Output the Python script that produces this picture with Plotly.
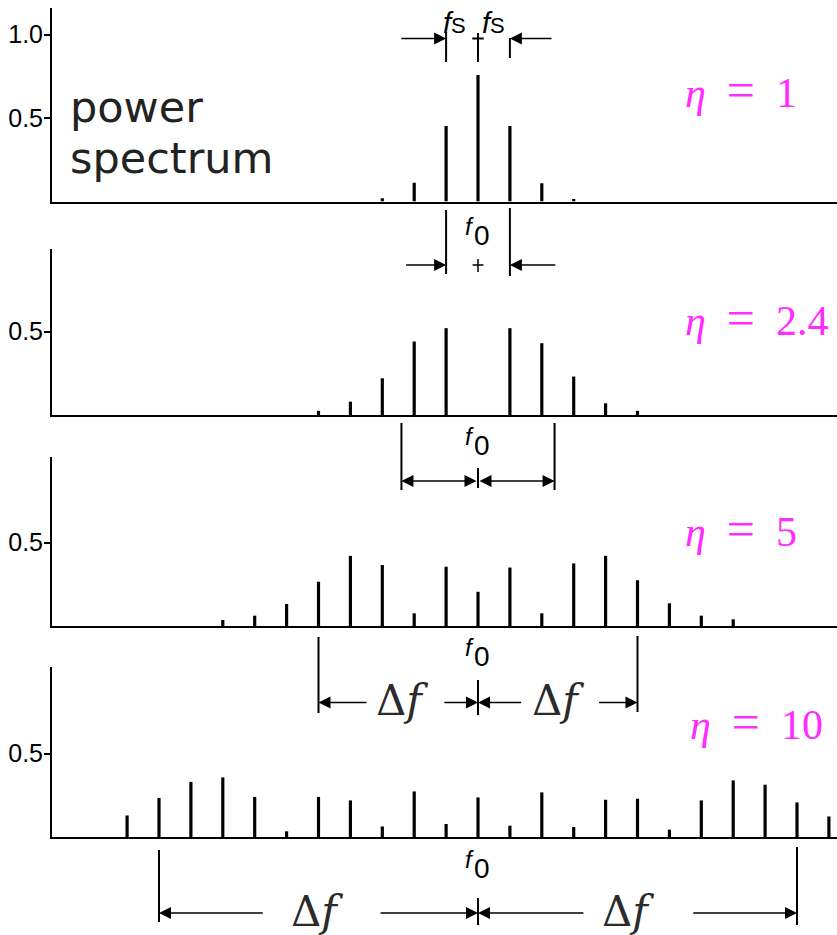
import plotly.graph_objects as go

W, H = 837, 935

# modulation indices shown in the four panels
eta = [1, 2.4, 5, 10]
eta_text = ["1", "2.4", "5", "10"]

# line orders n (carrier at n = 0, spacing f_S) and relative line amplitudes
orders_1 = [-3, -2, -1, 0, 1, 2, 3]
amps_1 = [0.02, 0.113, 0.452, 0.757, 0.452, 0.11, 0.015]

orders_24 = list(range(-5, 6))
amps_24 = [0.025, 0.08, 0.22, 0.44, 0.52, 0.0, 0.52, 0.43, 0.23, 0.07, 0.025]

orders_5 = list(range(-8, 9))
amps_5 = [0.036, 0.062, 0.132, 0.265, 0.42, 0.365, 0.076, 0.355, 0.205,
          0.35, 0.076, 0.375, 0.42, 0.274, 0.136, 0.062, 0.04]

orders_10 = list(range(-11, 12))
amps_10 = [0.129, 0.234, 0.33, 0.357, 0.24, 0.034, 0.24, 0.219, 0.063, 0.273,
           0.078, 0.237, 0.068, 0.267, 0.06, 0.223, 0.229, 0.044, 0.219, 0.339,
           0.313, 0.207, 0.123]

panels = [(orders_1, amps_1), (orders_24, amps_24), (orders_5, amps_5), (orders_10, amps_10)]

# y tick marks per panel
tick_vals = [[0.5, 1.0], [0.5], [0.5], [0.5]]
tick_text = [["0.5", "1.0"], ["0.5"], ["0.5"], ["0.5"]]

# ---- page geometry (pixels) ----
X_AXIS_PX = 52          # left edge of plotting area
X0_PX = 478             # carrier position
PX_PER_FS = 31.9        # one f_S in pixels
PX_PER_UNIT = 167       # amplitude 1.0 in pixels
panel_px = [(8, 201.5), (249, 415), (457, 626), (667, 837)]  # (top, baseline)

x_range = [(X_AXIS_PX - X0_PX) / PX_PER_FS, (W - X0_PX) / PX_PER_FS]


def py(p):
    """pixel row -> paper y"""
    return 1 - p / H


fig = go.Figure()
layout = dict(
    width=W, height=H, margin=dict(l=0, r=0, t=0, b=0),
    paper_bgcolor="white", plot_bgcolor="white",
    showlegend=False, barmode="overlay",
)

for i, ((orders, amps), (top, base)) in enumerate(zip(panels, panel_px)):
    sfx = "" if i == 0 else str(i + 1)
    fig.add_trace(go.Bar(
        x=orders, y=amps, width=0.1, marker=dict(color="black", line=dict(width=0)),
        xaxis="x" + sfx, yaxis="y" + sfx, hoverinfo="skip",
    ))
    layout["xaxis" + sfx] = dict(
        domain=[X_AXIS_PX / W, 1], range=x_range, anchor="y" + sfx,
        showline=True, linecolor="black", linewidth=2.2,
        showticklabels=False, ticks="", showgrid=False, zeroline=False,
        **({} if i == 0 else {"matches": "x"}),
    )
    layout["yaxis" + sfx] = dict(
        domain=[py(base), py(top)], range=[0, (base - top) / PX_PER_UNIT],
        anchor="x" + sfx, showline=True, linecolor="black", linewidth=2,
        ticks="outside", ticklen=6, tickwidth=1.5, tickcolor="black",
        tickvals=tick_vals[i], ticktext=tick_text[i], ticklabelstandoff=-4,
        tickfont=dict(family="Liberation Sans, Arial, sans-serif", size=25, color="black"),
        showgrid=False, zeroline=False,
    )

fig.update_layout(**layout)

shapes = []
annots = []


def vline(x, y0, y1, w=2):
    shapes.append(dict(type="line", xref="x", yref="paper", x0=x, x1=x,
                       y0=py(y0), y1=py(y1), line=dict(color="black", width=w)))


def hline(x0, x1, y, w=2):
    shapes.append(dict(type="line", xref="x", yref="paper", x0=x0, x1=x1,
                       y0=py(y), y1=py(y), line=dict(color="black", width=w)))


def arrow(tail, head, y, both=False):
    annots.append(dict(
        x=head, y=py(y), xref="x", yref="paper", ax=tail, ay=0, axref="x", ayref="pixel",
        text="", showarrow=True, arrowhead=2, arrowsize=1.5, arrowwidth=1.6,
        arrowcolor="black", standoff=0, startstandoff=0,
        arrowside="end+start" if both else "end", startarrowhead=2, startarrowsize=1.5,
    ))


def text(x, y, s, size, family, color="black", xref="x", xanchor="center"):
    annots.append(dict(
        x=x, y=py(y), xref=xref, yref="paper", text=s, showarrow=False,
        xanchor=xanchor, yanchor="middle",
        font=dict(size=size, family=family, color=color),
    ))


SANS = "Liberation Sans, Arial, sans-serif"
SERIF_MATH = "DejaVu Serif, Liberation Serif, serif"


def f0_label(bottom):
    text(-0.27, bottom - 19, "<i>f</i>", 24, SANS)
    text(0.13, bottom - 10, "0", 28, SANS)


def delta_f(x, y):
    text(x, y, "\u0394<i>f</i>", 42, SERIF_MATH, color="#2b2b2b")


# ---- f_S spacing marker above the first panel ----
fs = 1
vline(-fs, 32, 62)
vline(fs, 38, 58)
vline(0, 33, 62)
hline(-0.18, 0.18, 38.5)
arrow(-2.45, -fs, 38.5)
arrow(2.35, fs, 38.5)
fs_label = "<i>f</i><span style='font-size:22px'>S</span>"
text(-0.75, 23, fs_label, 29, SANS)
text(0.5, 23, fs_label, 29, SANS)

# ---- bracket below panel 1 (half width eta[0] * f_S) ----
d = eta[0]
vline(-d, 210, 274)
vline(d, 208, 276)
arrow(-2.3, -d, 265)
arrow(2.47, d, 265)
hline(-0.17, 0.17, 265, w=1.5)
vline(0, 259, 272, w=1.5)
f0_label(245)

# ---- bracket below panel 2 ----
d = eta[1]
vline(-d, 423, 490)
vline(d, 423, 490)
vline(0, 468, 488)
arrow(0, -d, 481, both=True)
arrow(0, d, 481, both=True)
f0_label(455)

# ---- bracket below panel 3 ----
d = eta[2]
vline(-d, 637, 713)
vline(d, 636, 712)
vline(0, 680, 715)
arrow(-3.45, -d, 702.5)
arrow(-1.1, 0, 702.5)
arrow(1.4, 0, 702.5)
arrow(3.75, d, 702.5)
delta_f(-2.38, 700)
delta_f(2.5, 700)
f0_label(666)

# ---- bracket below panel 4 ----
d = eta[3]
vline(-d, 850, 922)
vline(d, 847, 925)
vline(0, 898, 925)
arrow(-6.7, -d, 913)
arrow(-3.1, 0, 913)
arrow(3.35, 0, 913)
arrow(6.7, d, 913)
delta_f(-5.05, 911)
delta_f(4.7, 911)
f0_label(878)

# ---- modulation index labels ----
eta_y = [90, 318, 529, 722]
eta_x = [683, 683, 683, 688]
eq = "<span style='font-size:50px'>=</span>"
for e, yy, xx in zip(eta_text, eta_y, eta_x):
    text(xx / W, yy, "<i>\u03b7</i>\u2002" + eq + "\u2002" + e, 42,
         "Liberation Serif, Times New Roman, serif", color="#ff2bff",
         xref="paper", xanchor="left")

# ---- panel caption ----
caption_font = dict(size=43, family="DejaVu Sans, Verdana, sans-serif", color="#222222")
for word, yy in (("power", 107), ("spectrum", 158)):
    annots.append(dict(
        x=68 / W, y=py(yy), xref="paper", yref="paper", text=word,
        showarrow=False, xanchor="left", yanchor="middle", font=caption_font,
    ))

fig.update_layout(shapes=shapes, annotations=annots)
fig.write_html("out.html")
